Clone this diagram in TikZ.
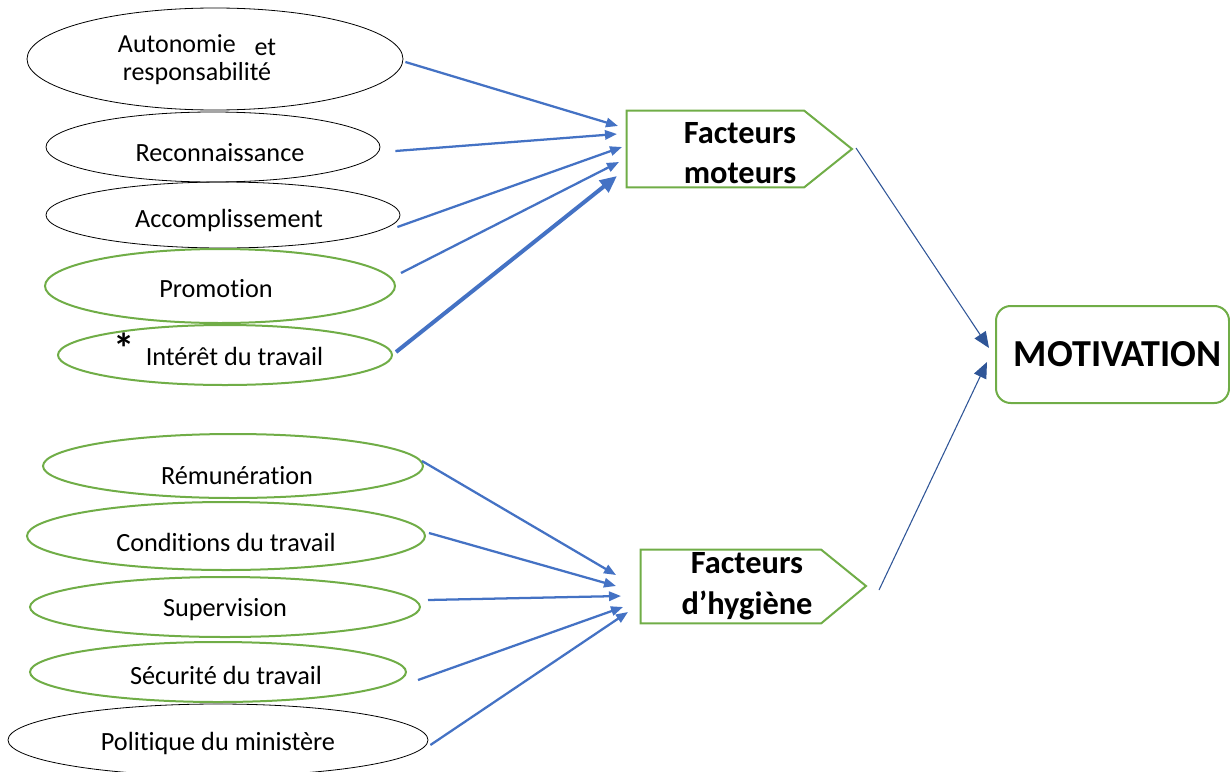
\documentclass[tikz,border=0pt]{standalone}
\usepackage{fontspec}
\setmainfont{Carlito}[Ligatures={NoCommon}]
\usetikzlibrary{shapes.geometric,arrows.meta}
\definecolor{arrblue}{HTML}{4472C4}
\definecolor{grn}{HTML}{70AD47}
\definecolor{dblue}{HTML}{2F5597}
\begin{document}
\begin{tikzpicture}[x=0.75pt,y=-0.75pt,
  ell/.style={ellipse,inner sep=0pt,font=\fontsize{19.7}{21}\selectfont,text depth=0pt},
  blk/.style={ell,draw=black,line width=0.6pt},
  grl/.style={ell,draw=grn,line width=1.5pt},
  arr/.style={draw=arrblue,line width=1.7pt,-{Triangle[length=9pt,width=7pt]}},
  thickarr/.style={draw=arrblue,line width=3pt,-{Triangle[length=12.75pt,width=11pt]}},
  marr/.style={draw=dblue,line width=0.8pt,-{Triangle[length=12pt,width=10pt]}},
  pent/.style={draw=grn,line width=1.5pt},
  btxt/.style={font=\fontsize{24.3}{30.5}\selectfont\bfseries,align=center,inner sep=0pt}
]
\useasboundingbox (0,0) rectangle (1230,771);

% top ellipses
\node[blk,minimum width=282pt,minimum height=76.5pt] (auto) at (215,59) {};
\node[inner sep=0pt,align=center,font=\fontsize{19.5}{21}\selectfont] (autot) at (197,60)
  {Autonomie\hspace{14pt}\raisebox{-2pt}{et}\\responsabilité};
\node[blk,minimum width=250.5pt,minimum height=52.5pt,text height=21pt] (rec) at (213,147) {\hspace*{10.5pt}Reconnaissance};
\node[blk,minimum width=265.5pt,minimum height=49.5pt,text height=18pt] (acc) at (223,215) {\hspace*{9pt}Accomplissement};
\node[grl,minimum width=262.5pt,minimum height=55.5pt,text height=16.5pt] (pro) at (220,286) {Promotion\hspace*{6pt}};
\node[grl,minimum width=250.5pt,minimum height=45pt,text height=15pt] (int) at (225,355)
  {\makebox[14.25pt][l]{\hspace{-10pt}\raisebox{1.5pt}{\fontsize{32}{32}\selectfont\bfseries *}}Intérêt du travail};

% bottom ellipses
\node[grl,minimum width=285pt,minimum height=48pt,text height=27pt] (rem) at (233,466) {\hspace*{6pt}Rémunération};
\node[grl,minimum width=298.5pt,minimum height=51pt,text height=22.5pt] (cond) at (226,536) {Conditions du travail};
\node[grl,minimum width=292.5pt,minimum height=45pt,text height=13.5pt] (sup) at (225,607) {Supervision};
\node[grl,minimum width=282pt,minimum height=45pt,text height=18pt] (sec) at (218,672) {\hspace*{12pt}Sécurité du travail};
\node[blk,minimum width=315pt,minimum height=54pt,text height=15pt] (pol) at (218,740) {Politique du ministère};

% Facteurs moteurs
\node[inner sep=0pt,minimum width=132.75pt,minimum height=57pt] (fm) at (715.5,149) {};
\coordinate (fmtip) at (852,149);
\draw[pent] (fm.north west) -- (fm.north east) -- (fmtip) -- (fm.south east) -- (fm.south west) -- cycle;
\node[btxt] (fmt) at (740,153) {Facteurs\\moteurs};

% Facteurs d'hygiene
\node[inner sep=0pt,minimum width=135pt,minimum height=54.75pt] (fh) at (731,586.5) {};
\coordinate (fhtip) at (866,586);
\draw[pent] (fh.north west) -- (fh.north east) -- (fhtip) -- (fh.south east) -- (fh.south west) -- cycle;
\node[btxt] (fht) at (747,586) {Facteurs\\d’hygiène};

% MOTIVATION
\node[draw=grn,line width=1.5pt,rounded corners=11pt,inner sep=0pt,
  minimum width=174.75pt,minimum height=72.75pt,
  font=\fontsize{28.6}{30}\selectfont\bfseries] (mot) at (1112.5,354.5) {\hspace{8pt}MOTIVATION};

% arrow targets
\coordinate (t1) at (618,126);
\coordinate (t2) at (617,134);
\coordinate (t3) at (622,147);
\coordinate (t4) at (619,162);
\coordinate (t5) at (617,176);
\coordinate (t6) at (616,575);
\coordinate (t7) at (616,586);
\coordinate (t8) at (621,596);
\coordinate (t9) at (623,607);
\coordinate (t10) at (628,612);

\draw[arr] ([shift={(2,3)}]auto.east) -- (t1);
\draw[arr] ([shift={(15,4)}]rec.east) -- (t2);
\draw[arr] ([shift={(-3,12)}]acc.east) -- (t3);
\draw[arr] ([shift={(5,-13)}]pro.east) -- (t4);
\draw[thickarr] ([shift={(3,-3)}]int.east) -- (t5);

\draw[arr] ([shift={(-2,-5)}]rem.east) -- (t6);
\draw[arr] ([shift={(3,-3)}]cond.east) -- (t7);
\draw[arr] ([shift={(7,-7)}]sup.east) -- (t8);
\draw[arr] ([shift={(11,8)}]sec.east) -- (t9);
\draw[arr] ([shift={(2,5)}]pol.east) -- (t10);

\draw[marr] ([shift={(4,-1)}]fmtip) -- ([shift={(-6,-6.5)}]mot.west);
\draw[marr] ([shift={(13,4)}]fhtip) -- ([shift={(-8,7.5)}]mot.west);
\end{tikzpicture}
\end{document}
